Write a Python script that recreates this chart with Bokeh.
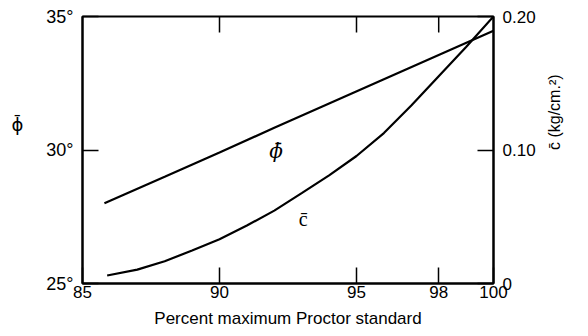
import math
from bokeh.plotting import figure
from bokeh.models import Range1d, LinearAxis, FixedTicker, Label
from bokeh.embed import file_html
from bokeh.resources import INLINE

# ---- data ----
pct_phi = [85.8, 88, 90, 92, 94, 96, 98, 100]
phi_deg = [28.01, 29.0, 29.91, 30.83, 31.74, 32.65, 33.56, 34.47]

pct_c = [85.9, 87, 88, 89, 90, 91, 92, 93, 94, 95, 96, 97, 98, 99, 100]
c_val = [0.006, 0.0104, 0.0167, 0.0247, 0.0332, 0.0434, 0.0546, 0.0677,
         0.081, 0.0955, 0.1127, 0.1333, 0.1553, 0.1771, 0.200]

x_ticks = [85, 90, 95, 98, 100]
top_ticks = [90, 95, 98]
phi_ticks = [25, 30, 35]
phi_tick_labels = ["25°", "30°", "35°"]
c_ticks = [0, 0.1, 0.2]
c_tick_labels = ["0", "0.10", "0.20"]

FONT = "Liberation Sans"
NB = "\u00a0"

p = figure(frame_width=411, frame_height=267,
           min_border_left=82, min_border_top=16, min_border_right=87,
           min_border_bottom=50,
           x_range=Range1d(85, 100), y_range=Range1d(25, 35),
           output_backend="svg", toolbar_location=None,
           x_axis_type=None, y_axis_type=None)
p.extra_y_ranges = {"c": Range1d(0, 0.2)}
p.grid.visible = False
p.outline_line_color = "black"
p.outline_line_width = 2
p.background_fill_color = "white"
p.border_fill_color = "white"


def style(ax, size="17px"):
    ax.major_tick_in = 16
    ax.major_tick_out = 0
    ax.minor_tick_line_color = None
    ax.major_tick_line_color = "black"
    ax.major_tick_line_width = 1.5
    ax.axis_line_color = "black"
    ax.axis_line_width = 2
    ax.major_label_text_font = FONT
    ax.major_label_text_font_size = size
    ax.major_label_text_color = "black"
    ax.axis_label_text_font_style = "normal"
    ax.axis_label_text_color = "black"


xb = LinearAxis(ticker=FixedTicker(ticks=x_ticks),
                axis_label="Percent maximum Proctor standard")
style(xb)
xb.major_label_standoff = 2
xb.axis_label_standoff = 8
xb.axis_label_text_font = FONT
xb.axis_label_text_font_size = "17px"
p.add_layout(xb, "below")

yl = LinearAxis(ticker=FixedTicker(ticks=phi_ticks),
                major_label_overrides={t: s for t, s in zip(phi_ticks, phi_tick_labels)},
                axis_label="\u03d5\u0304\n" + NB + "\n" + NB)
style(yl, "18px")
yl.major_label_standoff = 9
yl.axis_label_orientation = "horizontal"
yl.axis_label_standoff = 20
yl.axis_label_text_font = "DejaVu Sans"
yl.axis_label_text_font_size = "18px"
p.add_layout(yl, "left")

yr = LinearAxis(y_range_name="c", ticker=FixedTicker(ticks=c_ticks),
                major_label_overrides={t: s for t, s in zip(c_ticks, c_tick_labels)})
style(yr, "17px")
yr.major_label_standoff = 9
p.add_layout(yr, "right")

# second right axis carrying only the title, its bounds set to place the title
yr2 = LinearAxis(y_range_name="c", ticker=FixedTicker(ticks=[]),
                 bounds=(0, 0.169), axis_label="c\u0304 (kg/cm.\u00b2)")
yr2.axis_line_color = None
yr2.major_tick_line_color = None
yr2.minor_tick_line_color = None
yr2.axis_label_orientation = math.pi / 2
yr2.axis_label_standoff = 16
yr2.axis_label_text_font = FONT
yr2.axis_label_text_font_size = "16px"
yr2.axis_label_text_font_style = "normal"
yr2.axis_label_text_color = "black"
p.add_layout(yr2, "right")

# inward tick marks on the top edge
p.segment(x0=top_ticks, y0=[35] * 3, x1=top_ticks, y1=[34.4] * 3,
          line_color="black", line_width=1.5)

p.line(pct_phi, phi_deg, line_color="black", line_width=2.2)
p.line(pct_c, c_val, y_range_name="c", line_color="black", line_width=2.2)

p.add_layout(Label(x=92.06, y=29.95, text="\u03d5\u0304", text_align="center",
                   text_baseline="middle", text_font="DejaVu Serif",
                   text_font_style="italic", text_font_size="20px",
                   text_color="black"))
p.add_layout(Label(x=93.05, y=27.43, text="c\u0304", text_align="center",
                   text_baseline="middle", text_font="Liberation Serif",
                   text_font_size="20px", text_color="black"))

open("out.html", "w").write(file_html(p, INLINE))
